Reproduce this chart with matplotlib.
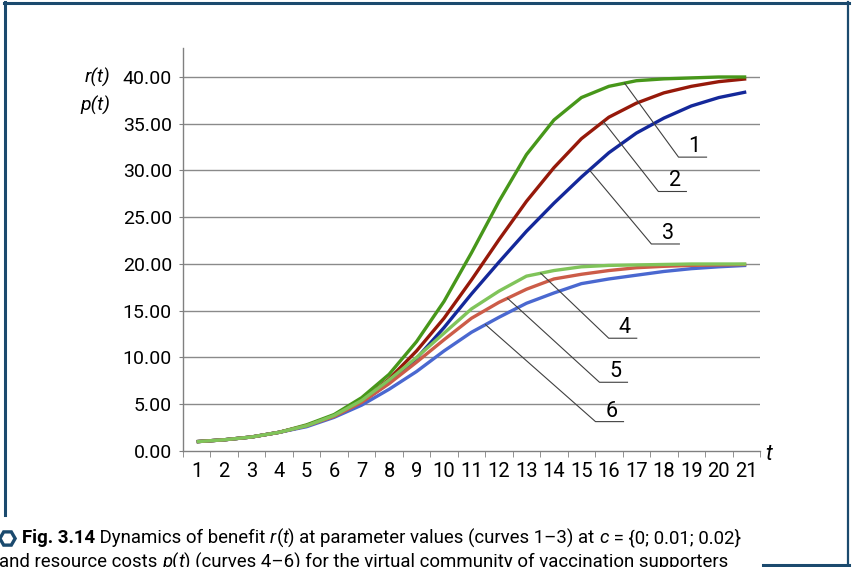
import numpy as np
import matplotlib
matplotlib.use("Agg")
from matplotlib import pyplot as plt
from matplotlib.lines import Line2D

plt.rcParams['font.family'] = ['Roboto', 'DejaVu Sans']

# time steps and curves
t = list(range(1, 22))
r1 = [1.0, 1.2, 1.5, 2.0, 2.8, 3.9, 5.7, 8.2, 11.7, 16.0, 21.2, 26.7, 31.7, 35.4, 37.8, 39.0, 39.6, 39.8, 39.9, 40.0, 40.0]
r2 = [1.0, 1.2, 1.5, 2.0, 2.7, 3.8, 5.4, 7.7, 10.7, 14.2, 18.3, 22.6, 26.7, 30.3, 33.4, 35.7, 37.2, 38.3, 39.0, 39.5, 39.8]
r3 = [1.0, 1.2, 1.5, 2.0, 2.7, 3.7, 5.2, 7.3, 9.9, 13.2, 16.8, 20.2, 23.5, 26.5, 29.3, 31.9, 34.0, 35.6, 36.9, 37.8, 38.4]
p4 = [1.0, 1.2, 1.5, 2.0, 2.7, 3.8, 5.4, 7.6, 10.0, 12.6, 15.2, 17.1, 18.7, 19.3, 19.7, 19.85, 19.9, 19.95, 20.0, 20.0, 20.0]
p5 = [1.0, 1.2, 1.5, 2.0, 2.7, 3.7, 5.2, 7.2, 9.5, 11.9, 14.2, 15.9, 17.3, 18.4, 18.9, 19.3, 19.6, 19.75, 19.85, 19.9, 19.95]
p6 = [1.0, 1.2, 1.5, 2.0, 2.6, 3.6, 4.9, 6.6, 8.5, 10.7, 12.7, 14.3, 15.8, 16.9, 17.9, 18.4, 18.8, 19.2, 19.5, 19.7, 19.85]

curve_labels = ['1', '2', '3', '4', '5', '6']
curve_data = [r1, r2, r3, p4, p5, p6]
curve_colors = ['#47971a', '#96190a', '#14289a', '#80c45a', '#cc5c48', '#4a68d0']
# where each leader line touches its curve (t) and the pixel offset of the elbow
label_t = [16.57, 15.8, 15.29, 13.52, 12.31, 11.51]
label_dx = [54, 55, 62, 68, 92, 110]
label_dy = [74, 70, 74, 65, 84, 97]

fig = plt.figure(figsize=(8.52, 5.67), dpi=100)
ax = fig.add_axes([183 / 852, 1 - 451 / 567, 577 / 852, 403 / 567])

order = [2, 1, 0, 5, 4, 3]
for i in order:
    ax.plot(t, curve_data[i], color=curve_colors[i], lw=2.4, solid_capstyle='butt', zorder=3 + order.index(i))

ax.set_xlim(0.5, 21.5)
ax.set_ylim(0, 43.1)
ax.set_yticks(np.arange(0, 41, 5))
ax.set_yticklabels(['%.2f' % v for v in np.arange(0, 41, 5)])
ax.set_xticks(t)
ax.set_xticks(np.arange(0.5, 22, 1), minor=True)
ax.tick_params(axis='x', which='major', length=0, pad=8, labelsize=14.5)
ax.tick_params(axis='x', which='minor', length=4, color='#808080', direction='out')
ax.tick_params(axis='y', length=3, color='#808080', pad=5, labelsize=14)
for v in np.arange(5, 41, 5):
    ax.axhline(v, color='#8a8a8a', lw=1.0, zorder=1)
for s in ['top', 'right']:
    ax.spines[s].set_visible(False)
for s in ['left', 'bottom']:
    ax.spines[s].set_color('#808080')
    ax.spines[s].set_linewidth(1.0)

# leader lines with curve numbers
fig.canvas.draw()
inv = ax.transData.inverted()
for i in range(6):
    y0 = np.interp(label_t[i], t, curve_data[i])
    px, py = ax.transData.transform((label_t[i], y0))
    ex, ey = px + label_dx[i], py - label_dy[i]
    pts = inv.transform([(px, py), (ex, ey), (ex + 28, ey)])
    ax.plot(pts[:, 0], pts[:, 1], color='#404040', lw=0.8, zorder=10, clip_on=False)
    ax.text(pts[2, 0], pts[2, 1], curve_labels[i] + ' ', ha='right', va='bottom',
            fontsize=15.5, zorder=11)

# axis names
fig.text(110 / 852, 1 - 77 / 567, 'r(t)', ha='right', va='center', fontsize=14, style='italic')
fig.text(110 / 852, 1 - 105 / 567, 'p(t)', ha='right', va='center', fontsize=14, style='italic')
fig.text(765 / 852, 1 - 455 / 567, 't', ha='left', va='center', fontsize=15.5, style='italic')

# frame around figure
frame_col = '#1b4a6e'
fig.add_artist(Line2D([4 / 852, 849 / 852], [1 - 2.5 / 567, 1 - 2.5 / 567], color=frame_col, lw=2.2))
fig.add_artist(Line2D([5 / 852, 5 / 852], [1 - 2 / 567, 1 - 515 / 567], color=frame_col, lw=2.2))
fig.add_artist(Line2D([848 / 852, 848 / 852], [1 - 2 / 567, 1 - 565 / 567], color=frame_col, lw=1.6))
fig.add_artist(Line2D([763 / 852, 849 / 852], [1 - 565 / 567, 1 - 565 / 567], color=frame_col, lw=2.2))

# caption
fig.add_artist(Line2D([7 / 852], [1 - 538 / 567], marker='H', ms=11, mfc='none', mec=frame_col, mew=2.4))
renderer = fig.canvas.get_renderer()


def draw_runs(runs, x, y, size):
    texts = []
    for txt, weight, style in runs:
        tx = fig.text(x, y, txt, ha='left', va='center', fontsize=size, fontweight=weight, fontstyle=style)
        w = tx.get_window_extent(renderer).width
        x += w / fig.bbox.width
        texts.append(tx)
    return texts, x


line1 = [('Fig. 3.14', 'bold', 'normal'), (' Dynamics of benefit ', 'normal', 'normal'),
         ('r', 'normal', 'italic'), ('(', 'normal', 'normal'), ('t', 'normal', 'italic'),
         (') at parameter values (curves 1\u20133) at ', 'normal', 'normal'), ('c', 'normal', 'italic'),
         (' = {0; 0.01; 0.02}', 'normal', 'normal')]
line2 = [('and resource costs ', 'normal', 'normal'), ('p', 'normal', 'italic'), ('(', 'normal', 'normal'),
         ('t', 'normal', 'italic'), (') (curves 4\u20136) for the virtual community of vaccination supporters', 'normal', 'normal')]

# fit the first caption line to the width it has in the reference (x 22..748 px)
x0 = 22 / 852
texts, x_end = draw_runs(line1, x0, 1 - 538 / 567, 14)
size = 14 * (726 / 852) / (x_end - x0)
for tx in texts:
    tx.remove()
draw_runs(line1, x0, 1 - 538 / 567, size)
draw_runs(line2, -1 / 852, 1 - 562 / 567, size)

fig.savefig('out.png', dpi=100)
